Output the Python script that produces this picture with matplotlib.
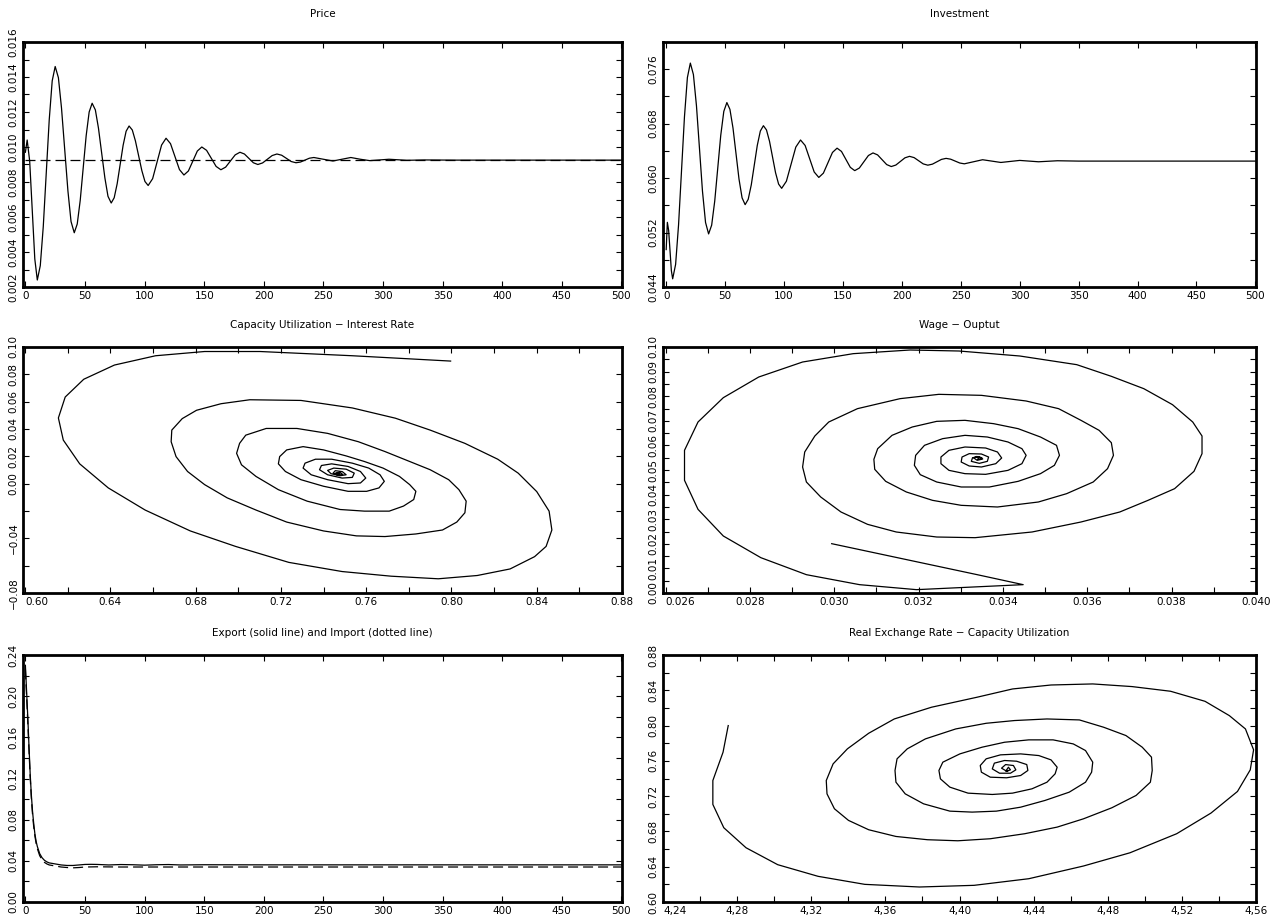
import matplotlib
matplotlib.use("Agg")
import matplotlib.pyplot as plt
from matplotlib.ticker import MultipleLocator, FixedLocator, FuncFormatter

plt.rcParams['font.family'] = ['DejaVu Sans']

# ---- Price (time path and steady state) ----
price_t = [0, 1.5, 3.6, 5.75, 7.9, 10, 12.5, 15, 17.5, 20, 22.5, 25, 27.7, 30.3, 33, 35.7,
           38.3, 41, 43.5, 46, 48.5, 51, 53.5, 56, 58.7, 61.3, 64, 66.7, 69.3, 72, 74.5, 77,
           79.5, 82, 84.5, 87, 89.7, 92.3, 95, 97.7, 100.3, 103, 106.75, 110.5, 114.25, 118,
           121.75, 125.5, 129.25, 133, 136.75, 140.5, 144.25, 148, 152, 156, 160, 164, 168,
           172, 176, 180, 183.75, 187.5, 191.25, 195, 199, 203, 207, 211, 215, 219, 223, 227,
           230.75, 234.5, 238.25, 242, 250, 258, 265.5, 273, 281, 289, 297, 305, 320, 335,
           360, 500]
price_v = [0.0097, 0.0104, 0.0092, 0.0064, 0.0036, 0.0024, 0.00322, 0.00545, 0.0085, 0.01155,
           0.01378, 0.0146, 0.01396, 0.01223, 0.00985, 0.00748, 0.00574, 0.0051, 0.0056,
           0.00695, 0.0088, 0.01065, 0.0120, 0.0125, 0.01212, 0.01108, 0.00965, 0.00823,
           0.00718, 0.0068, 0.0071, 0.0079, 0.0090, 0.0101, 0.0109, 0.0112, 0.01097, 0.01035,
           0.0095, 0.00865, 0.00803, 0.0078, 0.00819, 0.00915, 0.01011, 0.0105, 0.01019,
           0.00945, 0.00871, 0.0084, 0.00863, 0.0092, 0.00977, 0.0100, 0.00981, 0.00935,
           0.00889, 0.0087, 0.00885, 0.0092, 0.00955, 0.0097, 0.0096, 0.00935, 0.0091, 0.0090,
           0.00909, 0.0093, 0.00951, 0.0096, 0.00953, 0.00935, 0.00917, 0.0091, 0.00914,
           0.00925, 0.00936, 0.0094, 0.0093, 0.0092, 0.0093, 0.0094, 0.0093, 0.00922, 0.00926,
           0.0093, 0.00924, 0.00926, 0.00925, 0.00925]
price_ss = 0.00924

# ---- Investment ----
invest_t = [0, 1, 2.1, 3.25, 4.4, 5.5, 8, 10.5, 13, 15.5, 18, 20.5, 23.1, 25.7, 28.25, 30.8,
            33.4, 36, 38.6, 41.2, 43.75, 46.3, 48.9, 51.5, 54.1, 56.7, 59.25, 61.8, 64.4, 67,
            69.6, 72.2, 74.75, 77.3, 79.9, 82.5, 85.1, 87.7, 90.25, 92.8, 95.4, 98, 102, 106,
            110, 114, 117.9, 121.75, 125.6, 129.5, 133.4, 137.25, 141.1, 145, 148.75, 152.5,
            156.25, 160, 163.9, 167.75, 171.6, 175.5, 179.4, 183.25, 187.1, 191, 194.9,
            198.75, 202.6, 206.5, 210.4, 214.25, 218.1, 222, 225.9, 229.75, 233.6, 237.5,
            241.4, 245.25, 249.1, 253, 260.75, 268.5, 276.25, 284, 292, 300, 316, 332, 350, 500]
invest_v = [0.0495, 0.0535, 0.0523, 0.04935, 0.0464, 0.0452, 0.04732, 0.05313, 0.06105,
            0.06898, 0.07478, 0.0769, 0.07522, 0.07062, 0.06435, 0.05807, 0.05348, 0.0518,
            0.05309, 0.05663, 0.06145, 0.06628, 0.06981, 0.0711, 0.0701, 0.06735, 0.0636,
            0.05985, 0.0571, 0.0561, 0.05688, 0.0590, 0.0619, 0.0648, 0.06692, 0.0677, 0.06708,
            0.0654, 0.0631, 0.0608, 0.05912, 0.0585, 0.05954, 0.06205, 0.06456, 0.0656, 0.0648,
            0.06285, 0.0609, 0.0601, 0.06073, 0.06225, 0.06377, 0.0644, 0.06392, 0.06275,
            0.06158, 0.0611, 0.06148, 0.0624, 0.06332, 0.0637, 0.06341, 0.0627, 0.06199,
            0.0617, 0.06192, 0.06245, 0.06298, 0.0632, 0.06301, 0.06255, 0.06209, 0.0619,
            0.06205, 0.0624, 0.06275, 0.0629, 0.06278, 0.0625, 0.06222, 0.0621, 0.0624, 0.0627,
            0.0625, 0.0623, 0.06245, 0.0626, 0.0624, 0.06255, 0.0625, 0.0625]

# ---- Export / Import ----
export_t = [0, 1, 2, 3, 4, 5, 6, 7, 8, 9, 10, 12, 14, 16, 18, 20, 25, 30, 35, 40, 45, 50,
            55, 60, 70, 80, 90, 100, 110, 120, 130, 150, 200, 300, 500]
export_v = [0.230, 0.205, 0.180, 0.152, 0.125, 0.104, 0.088, 0.076, 0.066, 0.059, 0.054,
            0.047, 0.043, 0.0405, 0.039, 0.038, 0.037, 0.036, 0.0355, 0.0355, 0.036, 0.0365,
            0.0366, 0.0365, 0.036, 0.0364, 0.0362, 0.0358, 0.0362, 0.0364, 0.036, 0.0362,
            0.0361, 0.0361, 0.0361]
import_t = [0, 1, 2, 3, 4, 5, 6, 7, 8, 9, 10, 12, 14, 16, 18, 20, 25, 30, 35, 40, 45, 50,
            60, 80, 100, 150, 500]
import_v = [0.226, 0.200, 0.175, 0.148, 0.122, 0.101, 0.085, 0.073, 0.064, 0.057, 0.052,
            0.045, 0.041, 0.0385, 0.037, 0.036, 0.035, 0.034, 0.0335, 0.0332, 0.0335, 0.034,
            0.0342, 0.034, 0.034, 0.034, 0.034]

# ---- Capacity utilization (x) vs interest rate (y) ----
cu_x = [0.7996, 0.7535, 0.7102, 0.6842, 0.6612, 0.6419, 0.6275, 0.6188, 0.6156, 0.6179,
        0.6256, 0.6390, 0.6563, 0.6775, 0.6987, 0.7237, 0.7487, 0.7717, 0.7938, 0.8121,
        0.8275, 0.8390, 0.8444, 0.8471, 0.8458, 0.8400, 0.8313, 0.8217, 0.8063, 0.7900,
        0.7737, 0.7535, 0.7294, 0.7054, 0.6919, 0.6804, 0.6737, 0.6688, 0.6685, 0.6708,
        0.6762, 0.6842, 0.6948, 0.7083, 0.7227, 0.7400, 0.7554, 0.7688, 0.7833, 0.7958,
        0.8025, 0.8063, 0.8069, 0.8035, 0.7987, 0.7900, 0.7804, 0.7688, 0.7563, 0.7419,
        0.7275, 0.7131, 0.7035, 0.7006, 0.6992, 0.7015, 0.7083, 0.7188, 0.7323, 0.7477,
        0.7592, 0.7708, 0.7775, 0.7823, 0.7833, 0.7804, 0.7756, 0.7679, 0.7592, 0.7506,
        0.7400, 0.7304, 0.7227, 0.7194, 0.7188, 0.7221, 0.7294, 0.7400, 0.7515, 0.7602,
        0.7660, 0.7685, 0.7665, 0.7612, 0.7535, 0.7438, 0.7362, 0.7313, 0.7304, 0.7342,
        0.7419, 0.7515, 0.7573, 0.7598, 0.7573, 0.7515, 0.7438, 0.7390, 0.7381, 0.7419,
        0.7487, 0.7535, 0.7544, 0.7506, 0.7448, 0.7419, 0.7435, 0.7477, 0.7506, 0.7488,
        0.7455, 0.7445, 0.7470, 0.7490, 0.7478, 0.7458, 0.7460, 0.7475, 0.7476, 0.7465,
        0.7466, 0.7470]
ir_y = [0.0897, 0.0936, 0.0967, 0.0967, 0.0936, 0.0868, 0.0764, 0.0634, 0.0481, 0.0319,
        0.0145, -0.0031, -0.0193, -0.0346, -0.0459, -0.0576, -0.0643, -0.0677, -0.0696, -0.0672,
        -0.0624, -0.0534, -0.0459, -0.0339, -0.0201, -0.0058, 0.0077, 0.0179, 0.0295, 0.0392,
        0.0479, 0.0554, 0.0609, 0.0614, 0.0585, 0.0537, 0.0476, 0.0392, 0.0307, 0.0198,
        0.0089, -0.0007, -0.0104, -0.0193, -0.0281, -0.0346, -0.0382, -0.0387, -0.0368, -0.0339,
        -0.0281, -0.0213, -0.0128, -0.0044, 0.0029, 0.0102, 0.0162, 0.0235, 0.0307, 0.0368,
        0.0404, 0.0404, 0.0355, 0.0295, 0.0222, 0.0138, 0.0053, -0.0044, -0.0128, -0.0189,
        -0.0201, -0.0201, -0.0164, -0.0116, -0.0056, -0.0007, 0.0053, 0.0114, 0.0162, 0.0203,
        0.0247, 0.0271, 0.0247, 0.0198, 0.0145, 0.0089, 0.0029, -0.0019, -0.0056, -0.0056,
        -0.0031, 0.0017, 0.0065, 0.0114, 0.0150, 0.0179, 0.0179, 0.0150, 0.0114, 0.0065,
        0.0029, 0.0, 0.0005, 0.0041, 0.0089, 0.0126, 0.0145, 0.0133, 0.0102, 0.0065,
        0.0041, 0.0046, 0.0077, 0.0106, 0.0114, 0.0097, 0.0073, 0.0058, 0.0065, 0.0088,
        0.0095, 0.0078, 0.0060, 0.0067, 0.0082, 0.0080, 0.0068, 0.0065, 0.0073, 0.0075,
        0.0068, 0.0070]

# ---- Wage (x) vs output (y) ----
wage_x = [0.02994, 0.03339, 0.03448, 0.03195, 0.03060, 0.02934, 0.02826, 0.02737, 0.02677,
          0.02645, 0.02645, 0.02677, 0.02737, 0.02821, 0.02925, 0.03045, 0.03180, 0.03296,
          0.03440, 0.03575, 0.03657, 0.03734, 0.03802, 0.03850, 0.03872, 0.03872, 0.03853,
          0.03807, 0.03744, 0.03677, 0.03585, 0.03469, 0.03334, 0.03243, 0.03147, 0.03079,
          0.03016, 0.02968, 0.02934, 0.02925, 0.02930, 0.02954, 0.02987, 0.03055, 0.03156,
          0.03248, 0.03349, 0.03455, 0.03532, 0.03585, 0.03628, 0.03657, 0.03662, 0.03648,
          0.03614, 0.03551, 0.03484, 0.03387, 0.03301, 0.03233, 0.03171, 0.03122, 0.03096,
          0.03094, 0.03103, 0.03137, 0.03185, 0.03243, 0.03310, 0.03378, 0.03436, 0.03489,
          0.03527, 0.03534, 0.03522, 0.03489, 0.03436, 0.03368, 0.03301, 0.03243, 0.03204,
          0.03190, 0.03193, 0.03214, 0.03257, 0.03310, 0.03363, 0.03412, 0.03445, 0.03455,
          0.03445, 0.03412, 0.03359, 0.03310, 0.03272, 0.03253, 0.03253, 0.03272, 0.03310,
          0.03359, 0.03387, 0.03397, 0.03383, 0.03349, 0.03320, 0.03301, 0.03303, 0.03320,
          0.03349, 0.03366, 0.03363, 0.03344, 0.03325, 0.03328, 0.03344, 0.03352, 0.03339,
          0.03330, 0.03338, 0.03350, 0.03347, 0.03340, 0.03343]
output_y = [0.02005, 0.00745, 0.00339, 0.00136, 0.00339, 0.00745, 0.01436, 0.02317, 0.03401,
            0.0458, 0.0580, 0.06951, 0.0794, 0.0878, 0.0939, 0.09729, 0.09878, 0.09837,
            0.09634, 0.09282, 0.08808, 0.08306, 0.07656, 0.06951, 0.06382, 0.05664, 0.04946,
            0.04241, 0.03767, 0.03293, 0.02886, 0.0248, 0.02249, 0.02276, 0.0248, 0.02791,
            0.03293, 0.03902, 0.04512, 0.05122, 0.05732, 0.06382, 0.06951, 0.07493, 0.0790,
            0.08076, 0.08035, 0.07805, 0.07493, 0.07019, 0.06612, 0.06111, 0.05596, 0.05054,
            0.04512, 0.04038, 0.03699, 0.03496, 0.03564, 0.03767, 0.04106, 0.04539, 0.05027,
            0.05434, 0.05867, 0.06409, 0.06748, 0.06978, 0.07019, 0.06883, 0.0668, 0.06341,
            0.06003, 0.05596, 0.0519, 0.04851, 0.04539, 0.04309, 0.04309, 0.04512, 0.0481,
            0.0519, 0.05596, 0.06003, 0.06274, 0.06409, 0.06341, 0.06138, 0.05867, 0.05596,
            0.05257, 0.04986, 0.04824, 0.04851, 0.04986, 0.05257, 0.05528, 0.0580, 0.05935,
            0.05894, 0.05732, 0.05488, 0.05257, 0.05122, 0.05163, 0.05325, 0.05528, 0.05664,
            0.0565, 0.05528, 0.05352, 0.05271, 0.05352, 0.05501, 0.05528, 0.05447, 0.05393,
            0.0550, 0.0555, 0.0550, 0.0543, 0.0544, 0.0548]

# ---- Real exchange rate (x) vs capacity utilization (y) ----
rer_x = [4.2752, 4.2724, 4.2669, 4.2669, 4.2728, 4.2848, 4.3019, 4.3237, 4.3489, 4.3784,
         4.4079, 4.4374, 4.4669, 4.4920, 4.5172, 4.5357, 4.5500, 4.5569, 4.5587, 4.5543,
         4.5456, 4.5325, 4.5139, 4.4931, 4.4719, 4.4494, 4.4286, 4.4094, 4.3849, 4.3648,
         4.3510, 4.3395, 4.3318, 4.3281, 4.3285, 4.3325, 4.3401, 4.3510, 4.3657, 4.3827,
         4.3991, 4.4166, 4.4352, 4.4527, 4.4669, 4.4822, 4.4953, 4.5030, 4.5040, 4.5036,
         4.4986, 4.4898, 4.4778, 4.4647, 4.4472, 4.4297, 4.4144, 4.3980, 4.3816, 4.3718,
         4.3663, 4.3652, 4.3657, 4.3707, 4.3806, 4.3948, 4.4068, 4.4199, 4.4330, 4.4461,
         4.4592, 4.4680, 4.4713, 4.4719, 4.4680, 4.4614, 4.4505, 4.4374, 4.4243, 4.4122,
         4.4002, 4.3910, 4.3889, 4.3897, 4.3948, 4.4046, 4.4177, 4.4286, 4.4391, 4.4472,
         4.4516, 4.4527, 4.4494, 4.4428, 4.4330, 4.4221, 4.4144, 4.4112, 4.4118, 4.4166,
         4.4254, 4.4330, 4.4369, 4.4363, 4.4308, 4.4243, 4.4188, 4.4177, 4.4216, 4.4275,
         4.4304, 4.4291, 4.4249, 4.4227, 4.4254, 4.4275, 4.4264, 4.4255, 4.4250, 4.4258,
         4.4262, 4.4256]
cu2_y = [0.800, 0.7698, 0.7377, 0.7106, 0.6842, 0.6615, 0.6423, 0.6291, 0.6200, 0.6170,
         0.6189, 0.6264, 0.6408, 0.6558, 0.6774, 0.7008, 0.7253, 0.7498, 0.7725, 0.7962,
         0.8113, 0.8275, 0.8389, 0.8442, 0.8472, 0.8460, 0.8415, 0.8321, 0.8208, 0.8075,
         0.7913, 0.7736, 0.7566, 0.7377, 0.7226, 0.7057, 0.6925, 0.6819, 0.6743, 0.6706,
         0.6694, 0.6717, 0.6774, 0.6849, 0.6943, 0.7068, 0.7208, 0.7358, 0.7491, 0.7642,
         0.7755, 0.7887, 0.7981, 0.8064, 0.8075, 0.8057, 0.8026, 0.7962, 0.7849, 0.7736,
         0.7623, 0.7491, 0.7358, 0.7226, 0.7113, 0.7030, 0.7019, 0.7030, 0.7075, 0.7151,
         0.7245, 0.7358, 0.7472, 0.7585, 0.7717, 0.7792, 0.7838, 0.7838, 0.7811, 0.7755,
         0.7679, 0.7585, 0.7491, 0.7396, 0.7302, 0.7234, 0.7219, 0.7234, 0.7283, 0.7358,
         0.7453, 0.7528, 0.7611, 0.7660, 0.7679, 0.7668, 0.7623, 0.7547, 0.7472, 0.7415,
         0.7408, 0.7434, 0.7491, 0.7558, 0.7596, 0.7604, 0.7574, 0.7509, 0.7460, 0.7460,
         0.7498, 0.7547, 0.7558, 0.7517, 0.7483, 0.7498, 0.7528, 0.7500, 0.7485, 0.7480,
         0.7490, 0.7490]

W, H = 1279, 917
fig = plt.figure(figsize=(W / 100, H / 100), dpi=100)
fig.patch.set_facecolor('white')


def box(x0, y0, x1, y1):
    # pixel box (top-left origin) -> figure fraction rect
    return [x0 / W, 1 - y1 / H, (x1 - x0) / W, (y1 - y0) / H]


def style(ax, title, xmaj, xmin, ymaj, ymin, xfmt, yfmt, pad=14):
    for s in ax.spines.values():
        s.set_linewidth(2.0)
    ax.xaxis.set_major_locator(MultipleLocator(xmaj))
    ax.xaxis.set_minor_locator(MultipleLocator(xmin))
    if isinstance(ymaj, list):
        ax.yaxis.set_major_locator(FixedLocator(ymaj))
    else:
        ax.yaxis.set_major_locator(MultipleLocator(ymaj))
    ax.yaxis.set_minor_locator(MultipleLocator(ymin))
    ax.xaxis.set_major_formatter(FuncFormatter(xfmt))
    ax.yaxis.set_major_formatter(FuncFormatter(yfmt))
    ax.tick_params(which='both', direction='in', top=True, right=True,
                   length=4, width=0.8, labelsize=7.5, pad=3)
    ax.set_title(title, fontsize=7.5, pad=pad)


fmt_int = lambda v, p: '%d' % round(v)
fmt3 = lambda v, p: '%.3f' % v
fmt2 = lambda v, p: ('%.2f' % v).replace('-', '\u2212')
fmt_comma = lambda v, p: ('%.2f' % v).replace('.', ',')

line_kw = dict(color='black', lw=0.9)

# Price
ax1 = fig.add_axes(box(23, 42, 622, 287))
ax1.plot(price_t, price_v, **line_kw)
ax1.plot([0, 500], [price_ss, price_ss], color='black', lw=0.9, dashes=(8, 4))
ax1.set_xlim(-2, 500.5)
ax1.set_ylim(0.002, 0.016)
style(ax1, 'Price', 50, 50, 0.002, 0.001, fmt_int, fmt3, pad=18)

# Investment
ax2 = fig.add_axes(box(663, 42, 1256, 287))
ax2.plot(invest_t, invest_v, **line_kw)
ax2.set_xlim(-2.7, 500.5)
ax2.set_ylim(0.044, 0.080)
style(ax2, 'Investment', 50, 50, [0.044, 0.052, 0.060, 0.068, 0.076], 0.004,
      fmt_int, fmt3, pad=18)

# Capacity utilization - interest rate
ax3 = fig.add_axes(box(23, 347, 622, 593))
ax3.plot(cu_x, ir_y, **line_kw)
ax3.set_xlim(0.599, 0.88)
ax3.set_ylim(-0.08, 0.10)
style(ax3, 'Capacity Utilization \u2212 Interest Rate', 0.04, 0.02,
      [-0.08, -0.04, 0.0, 0.02, 0.04, 0.06, 0.08, 0.10], 0.02, fmt2, fmt2)

# Wage - output
ax4 = fig.add_axes(box(663, 347, 1256, 593))
ax4.plot(wage_x, output_y, **line_kw)
ax4.set_xlim(0.02594, 0.040)
ax4.set_ylim(0.0, 0.10)
style(ax4, 'Wage \u2212 Ouptut', 0.002, 0.001, 0.01, 0.005, fmt3, fmt2)

# Export / import
ax5 = fig.add_axes(box(23, 655, 622, 902))
ax5.plot(export_t, export_v, **line_kw)
ax5.plot(import_t, import_v, color='black', lw=0.9, dashes=(8, 4))
ax5.set_xlim(-2, 500.5)
ax5.set_ylim(0.0, 0.24)
style(ax5, 'Export (solid line) and Import (dotted line)', 50, 50, 0.04, 0.02,
      fmt_int, fmt2)

# Real exchange rate - capacity utilization
ax6 = fig.add_axes(box(663, 655, 1256, 902))
ax6.plot(rer_x, cu2_y, **line_kw)
ax6.set_xlim(4.24, 4.56)
ax6.set_ylim(0.60, 0.88)
style(ax6, 'Real Exchange Rate \u2212 Capacity Utilization', 0.04, 0.02, 0.04, 0.02,
      fmt_comma, fmt2)

fig.canvas.draw()
for ax in (ax1, ax2, ax3, ax4, ax5, ax6):
    for lab in ax.get_yticklabels():
        lab.set_rotation(90)
        lab.set_va('center')

# on the phase plots the first x label starts at the corner instead of centring on it
for ax in (ax3, ax4, ax6):
    lo, hi = ax.get_xlim()
    for tk in ax.xaxis.get_major_ticks():
        if abs(tk.get_loc() - lo) < 0.01 * (hi - lo):
            tk.label1.set_horizontalalignment('left')

fig.savefig('out.png', dpi=100)
